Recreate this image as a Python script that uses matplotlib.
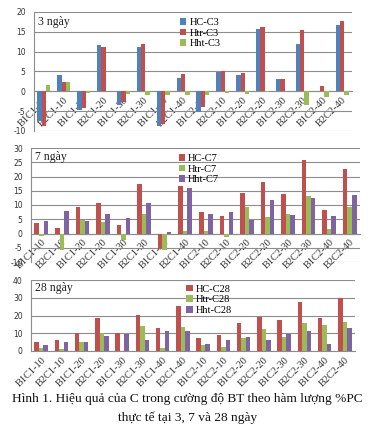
import matplotlib.pyplot as plt
import numpy as np

plt.rcParams['font.family'] = ['Liberation Serif', 'DejaVu Serif']
plt.rcParams['axes.unicode_minus'] = False

categories = ['B1C1-10', 'B2C1-10', 'B1C1-20', 'B2C1-20', 'B1C1-30', 'B2C1-30',
              'B1C1-40', 'B2C1-40', 'B1C2-10', 'B2C2-10', 'B1C2-20', 'B2C2-20',
              'B1C2-30', 'B2C2-30', 'B1C2-40', 'B2C2-40']

# 3 ngày
hc_c3 = [-7.6, 4.1, -4.7, 11.7, -3.4, 11.1, -8.8, 3.3, -5.2, 4.8, 4.0, 15.8, 3.1, 12.0, 0.1, 16.7]
htr_c3 = [-8.8, 2.3, -4.2, 11.3, -2.8, 12.0, -8.3, 4.3, -4.0, 5.2, 4.6, 16.3, 3.1, 15.5, 1.25, 17.7]
hht_c3 = [1.5, 2.25, -0.5, 0.2, -0.6, -0.8, -0.8, -1.0, -1.0, -0.3, -0.6, -0.2, 0.0, -3.5, -1.5, -1.0]

# 7 ngày
hc_c7 = [3.7, 1.9, 9.4, 10.8, 3.0, 17.5, -5.5, 16.8, 7.6, 6.0, 14.3, 17.9, 13.7, 25.8, 8.2, 22.7]
htr_c7 = [-0.8, -5.8, 4.9, 4.2, -2.4, 7.0, -5.8, 0.8, 0.8, -1.4, 9.4, 5.8, 6.9, 13.3, 1.7, 9.2]
hht_c7 = [4.5, 8.0, 4.5, 6.7, 5.6, 10.6, 0.5, 16.1, 6.7, 7.5, 4.8, 11.8, 6.5, 12.4, 6.3, 13.5]

# 28 ngày
hc_c28 = [5.2, 6.3, 10.1, 18.5, 9.9, 20.5, 13.2, 25.6, 7.6, 9.2, 15.5, 19.3, 17.4, 27.5, 18.7, 29.8]
htr_c28 = [1.7, 1.1, 5.2, 10.1, 0.2, 14.0, 1.9, 13.8, 3.3, 2.3, 7.1, 12.4, 7.8, 15.9, 14.7, 16.6]
hht_c28 = [3.1, 5.2, 4.8, 8.2, 9.6, 6.1, 11.1, 11.5, 4.2, 6.3, 7.8, 6.3, 9.4, 11.3, 4.0, 13.0]

BLUE = '#4F81BD'
RED = '#C0504D'
GREEN = '#9BBB59'
PURPLE = '#8064A2'
GRID = '#8c8c8c'

W, H = 375, 432
fig = plt.figure(figsize=(W / 100, H / 100), dpi=100)


def px_axes(left, top, right, bottom):
    return fig.add_axes([left / W, 1 - bottom / H, (right - left) / W, (bottom - top) / H])


panels = [
    dict(box=(34, 12, 352, 131), title='3 ngày', ylim=(-10, 20), step=5,
         series=[('HC-C3', hc_c3, BLUE), ('Htr-C3', htr_c3, RED), ('Hht-C3', hht_c3, GREEN)],
         leg=(0.44, 1.0)),
    dict(box=(31, 148, 360, 262), title='7 ngày', ylim=(-10, 30), step=5,
         series=[('HC-C7', hc_c7, RED), ('Htr-C7', htr_c7, GREEN), ('Hht-C7', hht_c7, PURPLE)],
         leg=(0.43, 1.0)),
    dict(box=(31, 280, 355, 351), title='28 ngày', ylim=(0, 40), step=10,
         series=[('HC-C28', hc_c28, RED), ('Htr-C28', htr_c28, GREEN), ('Hht-C28', hht_c28, PURPLE)],
         leg=(0.46, 1.02)),
]

x = np.arange(len(categories))
bw = 0.22

for p in panels:
    ax = px_axes(*p['box'])
    for i, (name, vals, col) in enumerate(p['series']):
        ax.bar(x + (i - 1) * bw, vals, bw, color=col, label=name, zorder=3)
    lo, hi = p['ylim']
    ax.set_ylim(lo, hi)
    ax.set_xlim(-0.5, len(categories) - 0.5)
    ax.set_yticks(np.arange(lo, hi + 1, p['step']))
    ax.yaxis.grid(True, color=GRID, linewidth=0.8, zorder=0)
    for s in ['top', 'right']:
        ax.spines[s].set_visible(False)
    ax.spines['left'].set_color(GRID)
    ax.spines['bottom'].set_color(GRID)
    ax.spines['bottom'].set_position(('data', 0))
    ax.set_xticks(x)
    ax.set_xticklabels(categories, rotation=45, ha='right', rotation_mode='anchor',
                       fontsize=7.5, color='#333333')
    ax.tick_params(axis='x', length=0, pad=3)
    ax.tick_params(axis='y', length=0, labelsize=6, labelcolor='#333333', pad=6)
    for lab in ax.get_yticklabels():
        lab.set_family('DejaVu Sans')
        lab.set_fontsize(5.5)
    ax.text(0.012, 0.97, p['title'], transform=ax.transAxes, ha='left', va='top',
            fontsize=8.5, color='#222222')
    ax.legend(loc='upper left', bbox_to_anchor=p['leg'], frameon=False, fontsize=7.5,
              handlelength=0.6, handleheight=0.6, handletextpad=0.3,
              labelspacing=0.15, borderaxespad=0.2)

fig.text(0.5, 1 - 399 / H, 'Hình 1. Hiệu quả của C trong cường độ BT theo hàm lượng %PC',
         ha='center', va='center', fontsize=9.6, color='#111111')
fig.text(0.5, 1 - 418 / H, 'thực tế tại 3, 7 và 28 ngày',
         ha='center', va='center', fontsize=9.6, color='#111111')

fig.savefig('out.png', dpi=100)
